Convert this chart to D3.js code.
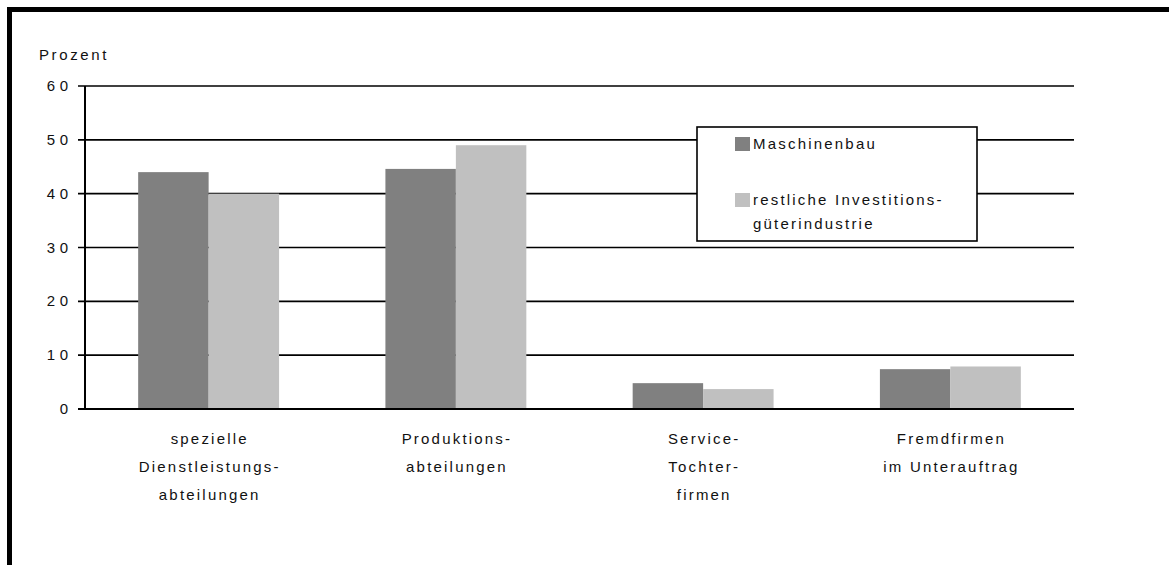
<!DOCTYPE html>
<html>
<head>
<meta charset="utf-8">
<script src="https://cdn.jsdelivr.net/npm/d3@7"></script>
<style>
  html, body { margin: 0; padding: 0; background: #fff; }
  svg { display: block; font-family: "Liberation Sans", Arial, sans-serif; }
</style>
</head>
<body>
<svg id="chart" width="1169" height="565"></svg>
<script>
// data
var categories = [
  ["spezielle", "Dienstleistungs-", "abteilungen"],
  ["Produktions-", "abteilungen"],
  ["Service-", "Tochter-", "firmen"],
  ["Fremdfirmen", "im Unterauftrag"]
];
var seriesNames = ["Maschinenbau", "restliche Investitions-|güterindustrie"];
var maschinenbau = [44, 44.6, 4.8, 7.4];
var restliche = [40, 49, 3.7, 7.9];
var yTicks = [0, 10, 20, 30, 40, 50, 60];

var colors = ["#808080", "#c0c0c0"];
var fontSize = 15, spacing = 2.2;

var svg = d3.select("svg#chart");

// frame (only top + left visible, rest runs off the page)
svg.append("rect")
  .attr("x", 9.5).attr("y", 9.5)
  .attr("width", 1300).attr("height", 700)
  .attr("fill", "none")
  .attr("stroke", "#000")
  .attr("stroke-width", 5);

var plot = { left: 85, right: 1074, top: 86, bottom: 409 };

var x = d3.scaleBand()
  .domain(d3.range(categories.length))
  .range([plot.left, plot.right])
  .paddingInner(0.43)
  .paddingOuter(0.215);

var xs = d3.scaleBand()
  .domain([0, 1])
  .range([0, x.bandwidth()]);

var y = d3.scaleLinear().domain([0, 60]).range([plot.bottom, plot.top]);

// gridlines
svg.append("g")
  .selectAll("line")
  .data(yTicks)
  .enter()
  .append("line")
  .attr("x1", plot.left - 7)
  .attr("x2", plot.right)
  .attr("y1", (d) => y(d))
  .attr("y2", (d) => y(d))
  .attr("stroke", "#000")
  .attr("stroke-width", 1.6);

// y tick labels
svg.append("g")
  .selectAll("text")
  .data(yTicks)
  .enter()
  .append("text")
  .attr("x", 68 + 4.5)
  .attr("y", (d) => y(d) + 5)
  .attr("text-anchor", "end")
  .attr("font-size", fontSize)
  .attr("letter-spacing", 4.5)
  .attr("fill", "#111")
  .text((d) => d);

svg.append("text")
  .attr("x", 39)
  .attr("y", 60)
  .attr("font-size", fontSize)
  .attr("letter-spacing", 2.6)
  .attr("fill", "#111")
  .text("Prozent");

// bars
var series = [maschinenbau, restliche];
var groups = svg.append("g")
  .selectAll("g")
  .data(categories.map((c, i) => i))
  .enter()
  .append("g")
  .attr("transform", (i) => "translate(" + x(i) + ",0)");

groups.selectAll("rect")
  .data((i) => series.map((s, k) => ({ k: k, v: s[i] })))
  .enter()
  .append("rect")
  .attr("x", (d) => xs(d.k))
  .attr("width", xs.bandwidth())
  .attr("y", (d) => y(d.v))
  .attr("height", (d) => y(0) - y(d.v))
  .attr("fill", (d) => colors[d.k]);

// axis lines on top
svg.append("line")
  .attr("x1", plot.left).attr("x2", plot.left)
  .attr("y1", plot.top).attr("y2", plot.bottom)
  .attr("stroke", "#000").attr("stroke-width", 2);
svg.append("line")
  .attr("x1", plot.left - 7).attr("x2", plot.right)
  .attr("y1", plot.bottom).attr("y2", plot.bottom)
  .attr("stroke", "#000").attr("stroke-width", 2);

// category labels
var labels = svg.append("g")
  .selectAll("text")
  .data(categories)
  .enter()
  .append("text")
  .attr("text-anchor", "middle")
  .attr("font-size", fontSize)
  .attr("letter-spacing", spacing)
  .attr("fill", "#111");

labels.selectAll("tspan")
  .data((d, i) => d.map((t) => ({ t: t, i: i })))
  .enter()
  .append("tspan")
  .attr("x", (d) => x(d.i) + x.bandwidth() / 2 + spacing / 2)
  .attr("y", (d, j) => 444 + j * 28)
  .text((d) => d.t);

// legend
var legend = svg.append("g");
legend.append("rect")
  .attr("x", 697).attr("y", 127)
  .attr("width", 280).attr("height", 114)
  .attr("fill", "#fff")
  .attr("stroke", "#000")
  .attr("stroke-width", 1.6);

var legendY = [137, 193];
seriesNames.forEach(function (name, k) {
  legend.append("rect")
    .attr("x", 735).attr("y", legendY[k])
    .attr("width", 15).attr("height", 14)
    .attr("fill", colors[k]);
  name.split("|").forEach(function (line, j) {
    legend.append("text")
      .attr("x", 753)
      .attr("y", legendY[k] + 12 + j * 24)
      .attr("font-size", fontSize)
      .attr("letter-spacing", spacing)
      .attr("fill", "#111")
      .text(line);
  });
});
</script>
</body>
</html>
